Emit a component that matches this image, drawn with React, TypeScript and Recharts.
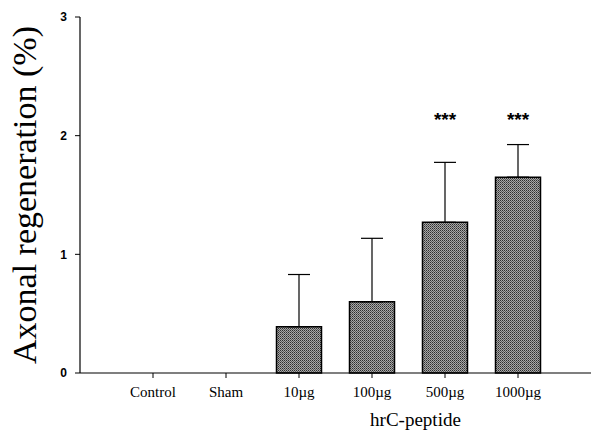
import { Bar, ComposedChart, ErrorBar, LabelList, Line, XAxis, YAxis } from "recharts";

const groups = ["Control", "Sham", "10µg", "100µg", "500µg", "1000µg"];
const regeneration = [0, 0, 0.39, 0.6, 1.27, 1.65];
const sem = [null, null, 0.44, 0.535, 0.505, 0.275];
const stars = [null, null, null, null, 2.15, 2.15];
const yTicks = [0, 1, 2, 3];

const data = groups.map((g, i) => ({
  group: g,
  value: regeneration[i],
  err: sem[i] == null ? null : [0, sem[i]],
  star: stars[i],
}));

const serif = "'Liberation Serif', 'Times New Roman', serif";

export default function App() {
  return (
    <div style={{ position: "absolute", left: 0, top: 0, background: "#fff" }}>
      <ComposedChart
        width={591}
        height={432}
        data={data}
        margin={{ top: 17, right: 0, bottom: 0, left: 0 }}
      >
        <defs>
          <pattern id="dots" width="2" height="2" patternUnits="userSpaceOnUse">
            <rect width="2" height="2" fill="#a8a8a8" />
            <rect width="1" height="1" fill="#2e2e2e" />
            <rect x="1" y="1" width="1" height="1" fill="#5a5a5a" />
          </pattern>
        </defs>
        <XAxis
          dataKey="group"
          height={59}
          padding={{ left: 36.5, right: 36.5 }}
          axisLine={{ stroke: "#000", strokeWidth: 1.2 }}
          tickLine={{ stroke: "#000" }}
          tickSize={5}
          tickMargin={8}
          tick={{ fill: "#000", fontFamily: serif, fontSize: 15 }}
          label={{
            value: "hrC-peptide",
            position: "insideBottom",
            dx: 80,
            offset: 6,
            fill: "#000",
            fontFamily: serif,
            fontSize: 19,
          }}
        />
        <YAxis
          width={80}
          domain={[0, 3]}
          ticks={yTicks}
          axisLine={{ stroke: "#000", strokeWidth: 1.2 }}
          tickLine={{ stroke: "#000" }}
          tickSize={5}
          tickMargin={8}
          tick={{ fill: "#000", fontFamily: "'Liberation Sans', Arial, sans-serif", fontSize: 12, fontWeight: "bold" }}
          label={{
            value: "Axonal regeneration (%)",
            angle: -90,
            position: "insideLeft",
            offset: 24,
            style: { textAnchor: "middle" },
            fill: "#000",
            fontFamily: serif,
            fontSize: 34,
          }}
        />
        <Bar
          dataKey="value"
          barSize={45}
          fill="url(#dots)"
          stroke="#000"
          strokeWidth={1.5}
          isAnimationActive={false}
        >
          <ErrorBar dataKey="err" width={11} stroke="#000" strokeWidth={1.2} direction="y" />
        </Bar>
        <Line
          dataKey="star"
          stroke="none"
          dot={false}
          activeDot={false}
          isAnimationActive={false}
        >
          <LabelList
            dataKey="star"
            position="center"
            content={(p: any) =>
              p.value == null ? null : (
                <text
                  x={p.x}
                  y={p.y}
                  dy={8}
                  textAnchor="middle"
                  fontFamily="'Liberation Sans', Arial, sans-serif"
                  fontWeight="bold"
                  fontSize={19}
                  fill="#000"
                >
                  ***
                </text>
              )
            }
          />
        </Line>
      </ComposedChart>
    </div>
  );
}
